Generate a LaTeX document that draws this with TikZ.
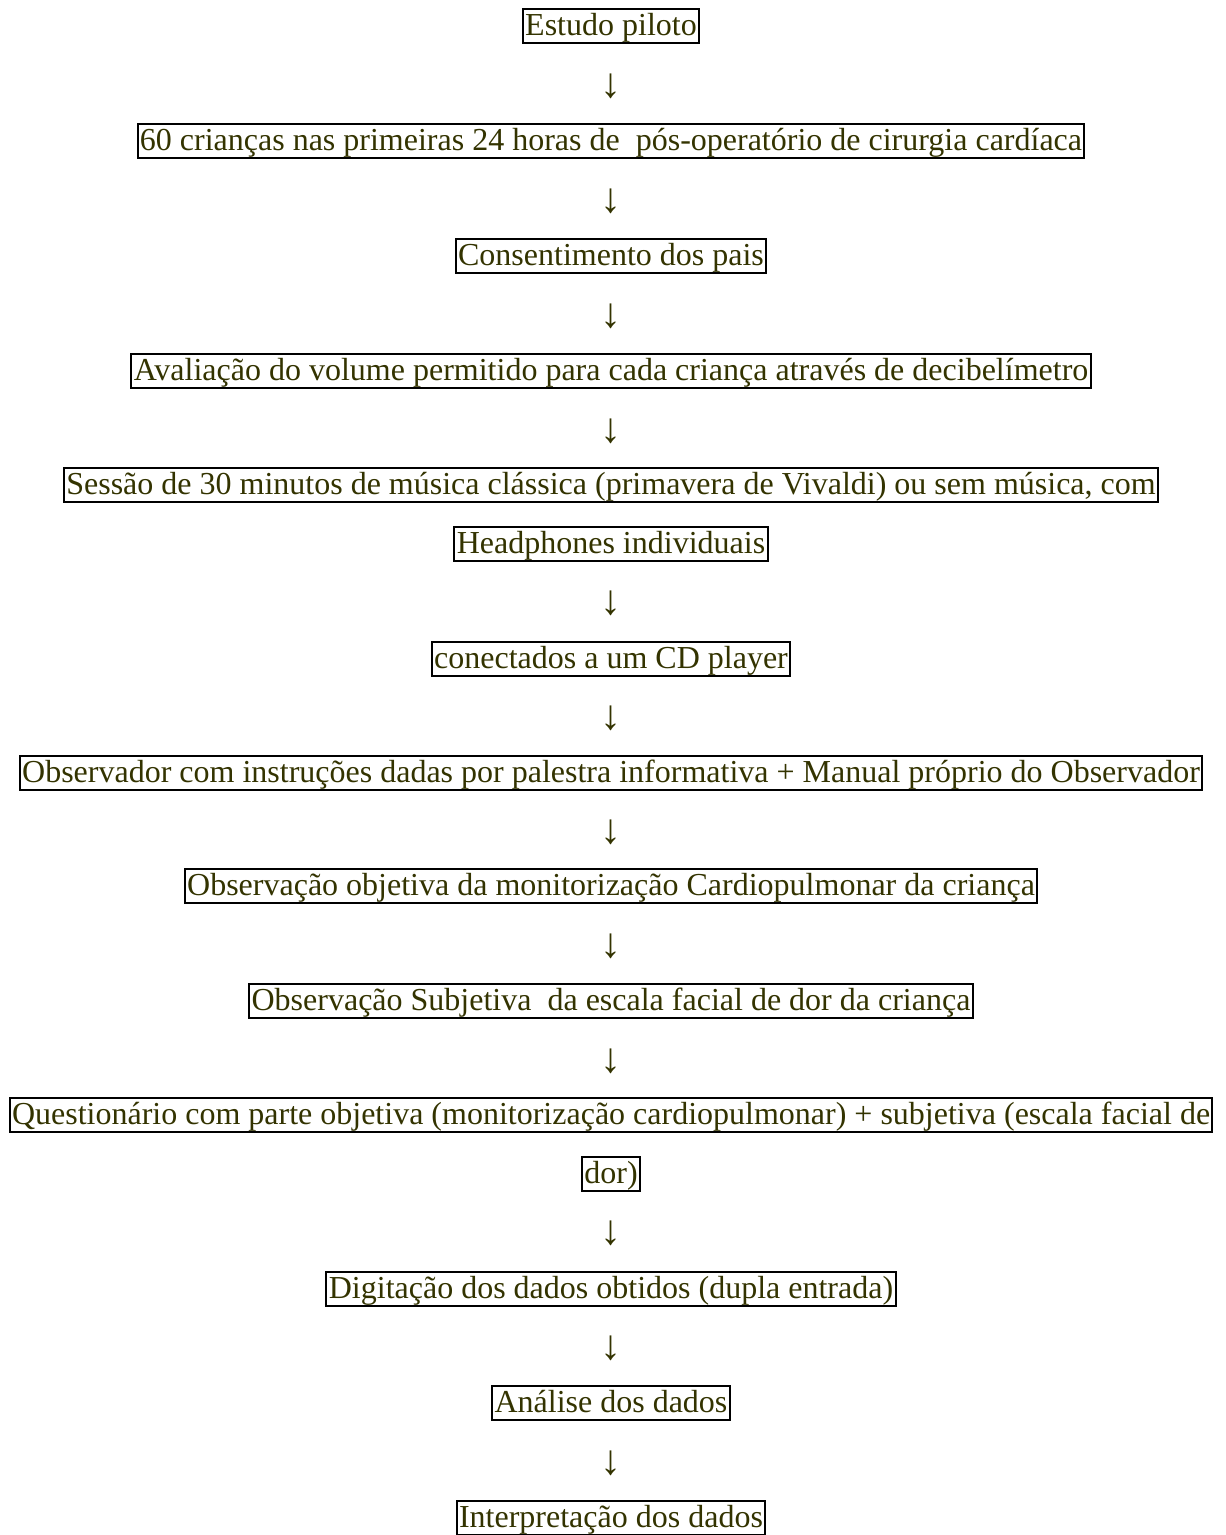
\documentclass[tikz,border=0pt]{standalone}
\usepackage{fontspec}
\setmainfont{Liberation Serif}
\definecolor{olivetext}{RGB}{51,51,0}
\begin{document}
\begin{tikzpicture}[x=0.5pt,y=-0.5pt,
  font=\fontsize{16}{19}\selectfont,
  stepbox/.style={draw=black,line width=1pt,text=olivetext,inner xsep=1.2pt,inner ysep=0pt,
     text height=13.4pt,text depth=3.9pt,anchor=center},
  arrowtxt/.style={text=olivetext,inner sep=0pt,anchor=center,font=\fontsize{21}{24}\selectfont}]
\useasboundingbox (0,0) rectangle (1225,1535);
\node[stepbox] (b1) at (611,26) {Estudo piloto};
\node[arrowtxt] (a1) at (611,86) {↓};
\node[stepbox] (b2) at (611,141) {60 crianças nas primeiras 24 horas de\ \ pós-operatório de cirurgia cardíaca};
\node[arrowtxt] (a2) at (611,201) {↓};
\node[stepbox] (b3) at (611,256) {Consentimento dos pais};
\node[arrowtxt] (a3) at (611,316) {↓};
\node[stepbox] (b4) at (611,371) {Avaliação do volume permitido para cada criança através de decibelímetro};
\node[arrowtxt] (a4) at (611,431) {↓};
\node[stepbox] (b5) at (611,485) {Sessão de 30 minutos de música clássica (primavera de Vivaldi) ou sem música, com};
\node[stepbox] (b5b) at (611,544) {Headphones individuais};
\node[arrowtxt] (a5) at (611,603) {↓};
\node[stepbox] (b6) at (611,659) {conectados a um CD player};
\node[arrowtxt] (a6) at (611,718) {↓};
\node[stepbox] (b7) at (611,773) {Observador com instruções dadas por palestra informativa + Manual próprio do Observador};
\node[arrowtxt] (a7) at (611,832) {↓};
\node[stepbox] (b8) at (611,886) {Observação objetiva da monitorização Cardiopulmonar da criança};
\node[arrowtxt] (a8) at (611,946) {↓};
\node[stepbox] (b9) at (611,1001) {Observação Subjetiva\ \ da escala facial de dor da criança};
\node[arrowtxt] (a9) at (611,1061) {↓};
\node[stepbox] (b10) at (611,1115) {Questionário com parte objetiva (monitorização cardiopulmonar) + subjetiva (escala facial de};
\node[stepbox] (b10b) at (611,1174) {dor)};
\node[arrowtxt] (a10) at (611,1233) {↓};
\node[stepbox] (b11) at (611,1289) {Digitação dos dados obtidos (dupla entrada)};
\node[arrowtxt] (a11) at (611,1348) {↓};
\node[stepbox] (b12) at (611,1403) {Análise dos dados};
\node[arrowtxt] (a12) at (611,1463) {↓};
\node[stepbox] (b13) at (611,1518) {Interpretação dos dados};
\end{tikzpicture}
\end{document}
